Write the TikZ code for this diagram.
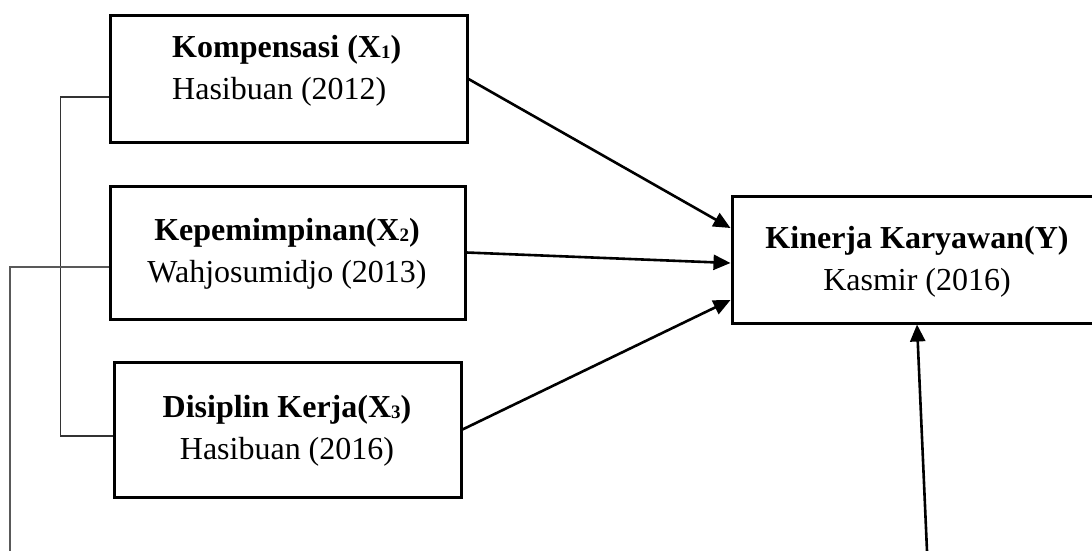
\documentclass[tikz,border=0pt]{standalone}
\usepackage{fontspec}
\setmainfont{Liberation Serif}
\usetikzlibrary{arrows.meta}

\newcommand{\indeks}[1]{\raisebox{-1pt}{\fontsize{19}{19}\selectfont #1}}

\tikzset{
	kotak/.style={draw, line width=3pt, inner sep=0pt},
	teks/.style={font=\fontsize{32}{42}\selectfont, align=center, inner sep=0pt},
	panah/.style={line width=2.6pt, -{Triangle[length=17pt,width=15pt]}},
	garis/.style={line width=1.4pt, black!80}
}

\begin{document}
\begin{tikzpicture}[x=1pt,y=-1pt]
			
			\useasboundingbox (0,0) rectangle (1092,551);
			
			%--- Kotak variabel bebas ---
			\node[kotak, minimum width=357pt, minimum height=126pt] (kompensasi) at (288.5,79) {};
			\node[teks, align=left, anchor=west] (kompensasiT) at (172,70.5) {\textbf{Kompensasi (X\indeks{1})}\\Hasibuan (2012)};
			
			\node[kotak, minimum width=355pt, minimum height=133pt] (kepemimpinan) at (287.5,252.5) {};
			\node[teks] (kepemimpinanT) at (287,254) {\textbf{Kepemimpinan(X\indeks{2})}\\Wahjosumidjo (2013)};
			
			\node[kotak, minimum width=347pt, minimum height=135pt] (disiplin) at (287.5,429.5) {};
			\node[teks] (disiplinT) at (287,431) {\textbf{Disiplin Kerja(X\indeks{3})}\\Hasibuan (2016)};
			
			%--- Kotak variabel terikat ---
			\node[kotak, minimum width=370pt, minimum height=127pt] (kinerja) at (917,259.5) {};
			\node[teks] (kinerjaT) at (917,261.5) {\textbf{Kinerja Karyawan(Y)}\\Kasmir (2016)};
			
			%--- Panah ---
			\draw[panah] (kompensasi.east) -- ([yshift=31.5pt]kinerja.west);
			\draw[panah] (kepemimpinan.east) -- ([yshift=-3.5pt]kinerja.west);
			\draw[panah] (disiplin.east) -- ([yshift=-40.5pt]kinerja.west);
			
			\coordinate (ujungKanan) at (927,551);
			\draw[panah] (ujungKanan) -- (kinerja.south);
			
			%--- Garis samping ---
			\draw[garis] ([yshift=-18pt]kompensasi.west) -- ++(-48,0) |- ([yshift=-6.5pt]disiplin.west);
			
			\coordinate (ujungKiri) at (10,551);
			\draw[garis, line width=1.9pt, black!65] ([yshift=-14.5pt]kepemimpinan.west) -| (ujungKiri);
			
		\end{tikzpicture}
\end{document}
